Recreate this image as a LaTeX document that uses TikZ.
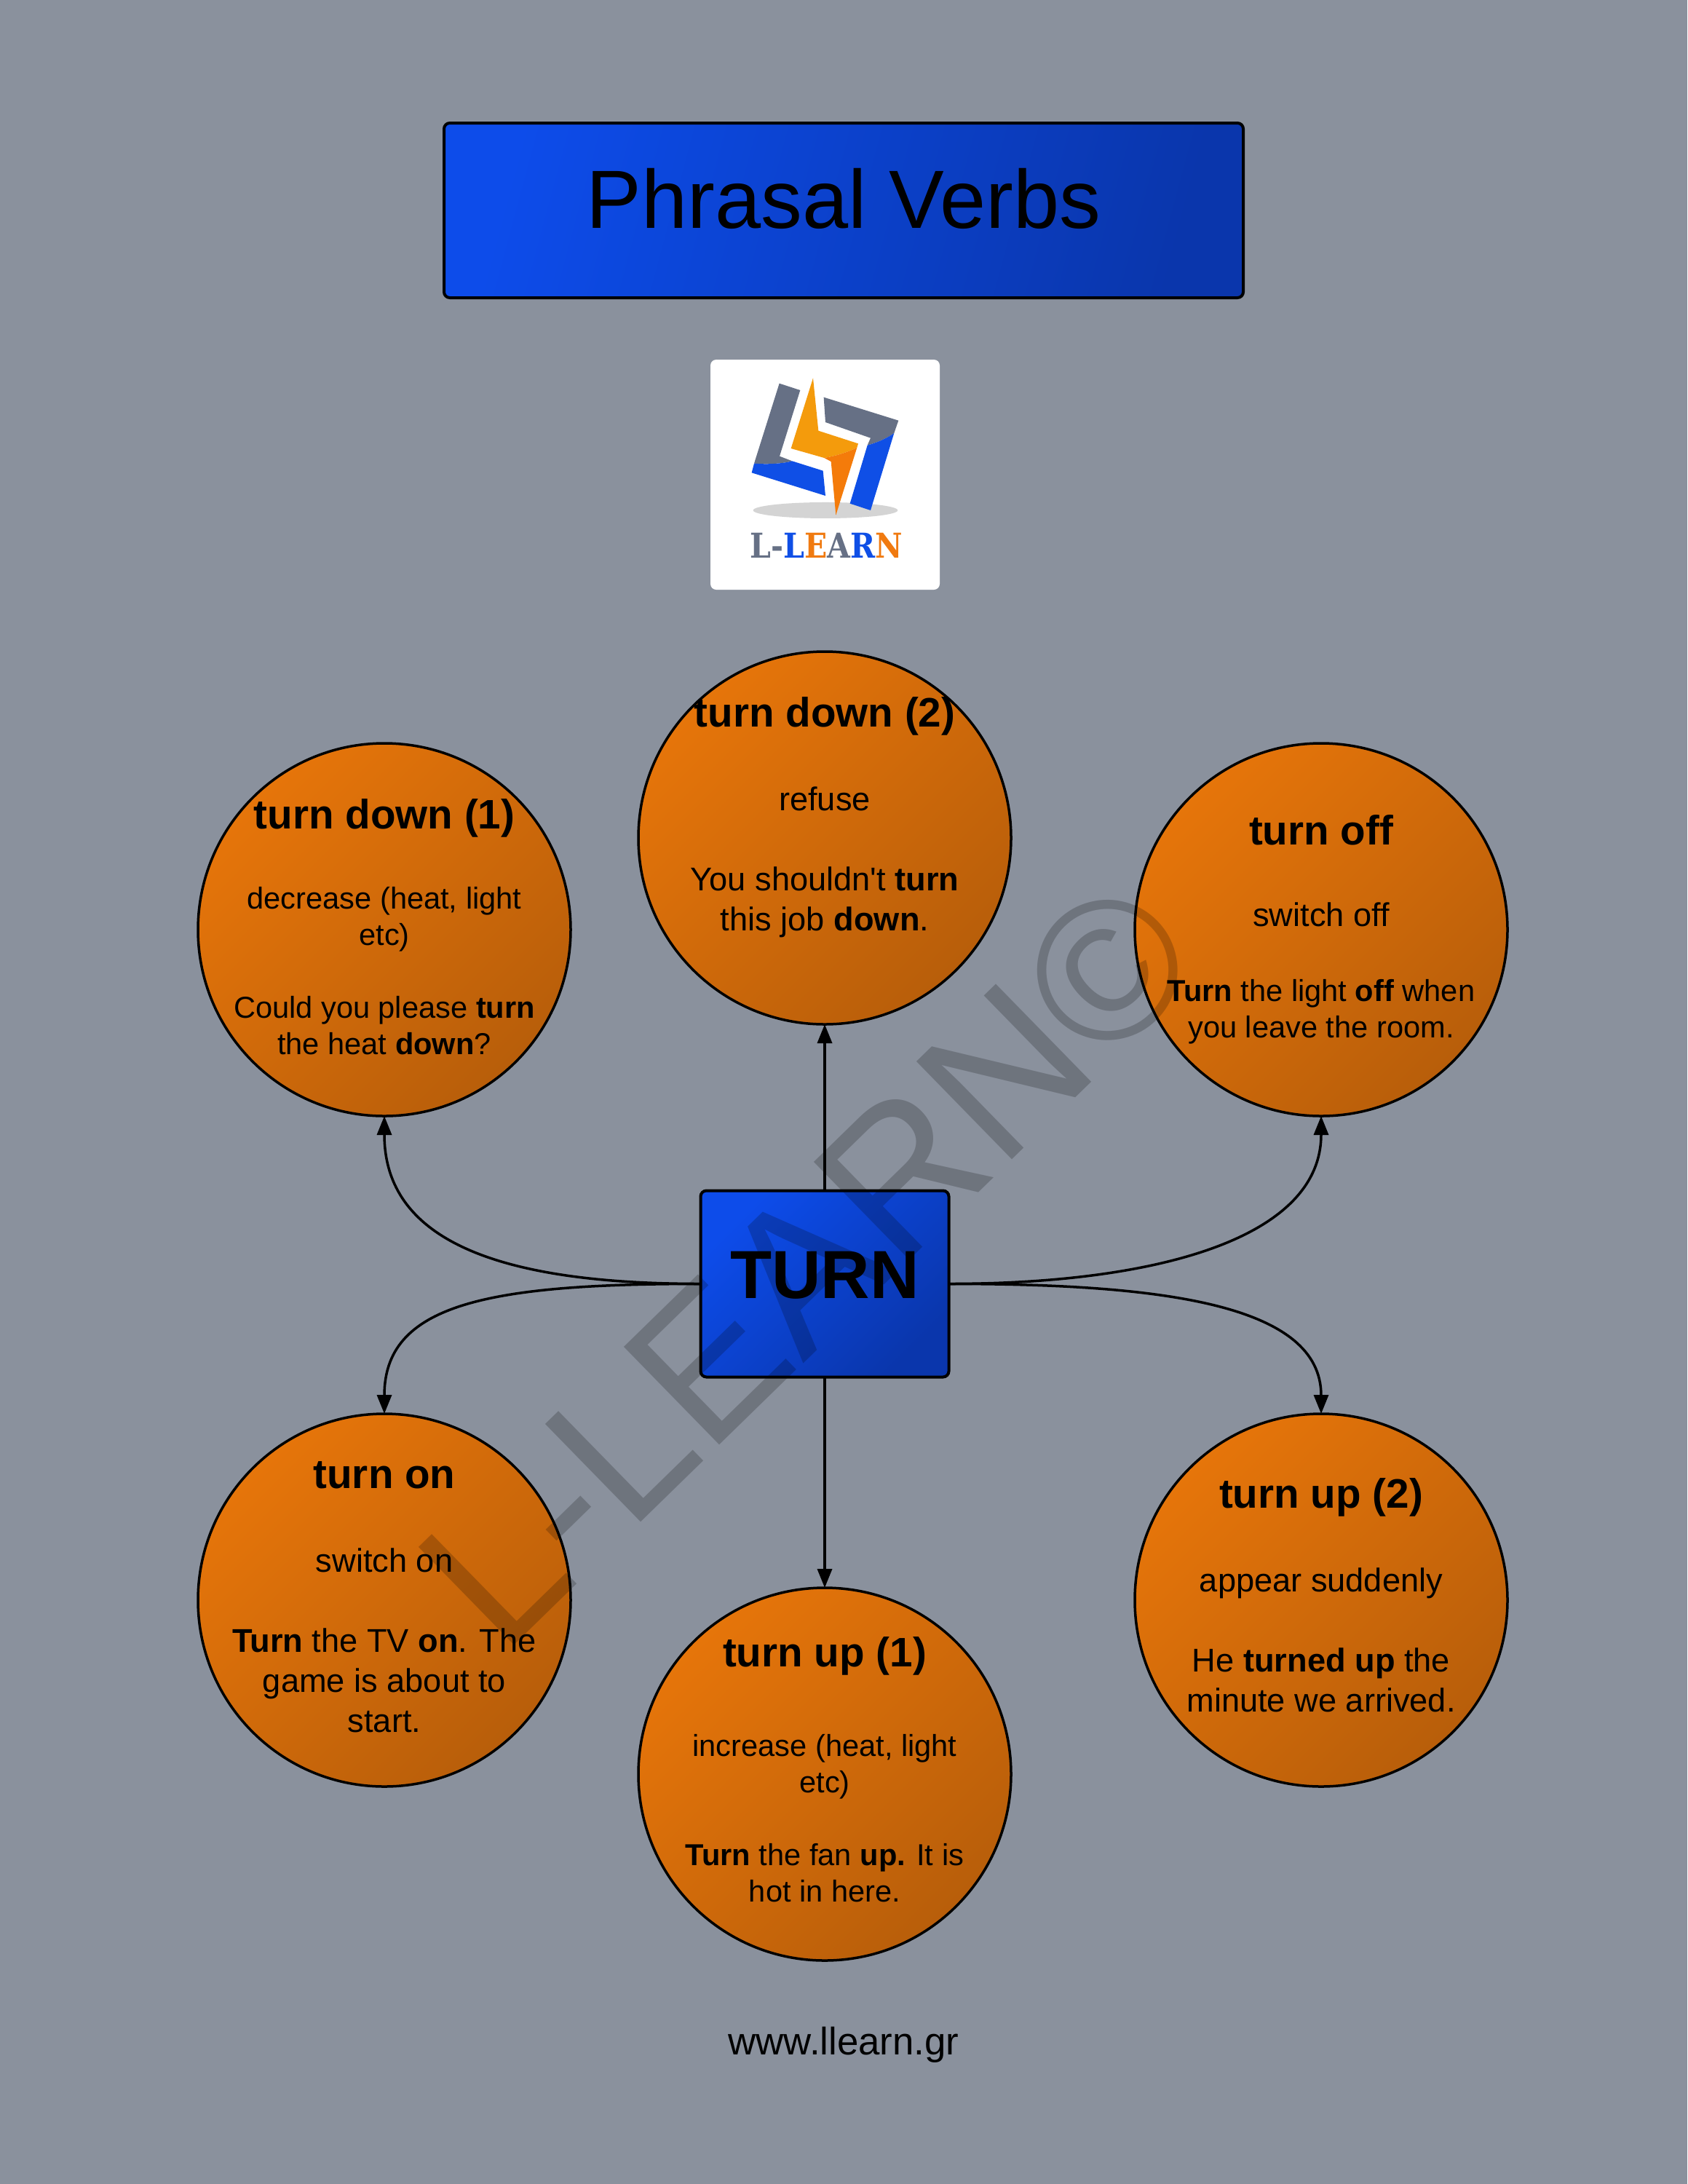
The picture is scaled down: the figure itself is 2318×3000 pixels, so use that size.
\documentclass[tikz,border=0pt]{standalone}
\usepackage{fontspec}
\setmainfont{Liberation Sans}
\newfontfamily\plainfont{Liberation Sans}
\newfontfamily\logofont{DejaVu Serif Condensed}
\usetikzlibrary{arrows.meta,calc,shadings}
\definecolor{bgc}{HTML}{8A919D}
\definecolor{blA}{HTML}{0D4CEA}
\definecolor{blB}{HTML}{0A36AC}
\definecolor{orA}{HTML}{E6750A}
\definecolor{orB}{HTML}{B85E0A}
\definecolor{lgray}{HTML}{667085}
\definecolor{lblue}{HTML}{0F4FE6}
\definecolor{lor}{HTML}{F49B0C}
\definecolor{lord}{HTML}{F47B0A}
\definecolor{ltxt}{HTML}{F07A10}
\newcommand{\hd}[1]{{\fontsize{56.6}{68}\selectfont\bfseries #1}}
\newcommand{\aposch}{{\plainfont '}}
\tikzset{
  x=1pt,y=-1pt,
  bub/.style={circle,draw=black,line width=3.5pt,minimum size=512pt,inner sep=0pt,outer sep=0pt,top color=orA,bottom color=orB,shading angle=45},
  btxt/.style={align=center,inner sep=0pt,text=black},
  big/.style={btxt,font=\fontsize{45.2}{55}\selectfont},
  small/.style={btxt,font=\fontsize{41.6}{50}\selectfont},
  bluebox/.style={draw=black,line width=4pt,rounded corners=8pt,inner sep=0pt,outer sep=0pt,top color=blA,bottom color=blB,shading angle=45},
  conn/.style={draw=black,line width=3.5pt,-{Triangle[length=26pt,width=20pt]}},
  logoscale/.style={shift={(960,480)},x=0.3333pt,y=-0.3333pt}
}
\begin{document}
\begin{tikzpicture}
\useasboundingbox (0,0) rectangle (2318,3000);
\fill[bgc] (0,0) rectangle (2318,3000);

% title
\node[bluebox,minimum width=1098pt,minimum height=240pt,top color=blA,bottom color=blB,shading angle=75] (title) at (1159,289) {};
\node[inner sep=0pt,font=\fontsize{113.5}{130}\selectfont] (titlet) at (1159,273) {Phrasal Verbs};

% logo
\node[fill=white,rounded corners=8pt,minimum width=315pt,minimum height=316pt,inner sep=0pt] (logo) at (1133.5,652) {};
\begin{scope}[logoscale]
  \fill[black!17] (522,663) ellipse [x radius=298,y radius=33];
  \fill[lgray] (332,140) -- (418,168) -- (333,440) -- (385,460) .. controls (340,472) and (280,474) .. (228,470) -- cycle;
  \fill[lblue] (228,470) .. controls (280,474) and (340,472) .. (385,460) -- (512,500) -- (522,603) -- (218,508) -- cycle;
  \fill[lgray] (515,197) -- (823,293) -- (805,345) .. controls (770,370) and (730,385) .. (695,395) -- (708,365) -- (522,300) -- cycle;
  \fill[lblue] (805,345) -- (708,663) -- (623,635) -- (695,395) .. controls (730,385) and (770,370) .. (805,345) -- cycle;
  \fill[lor] (471,118) -- (493,335) -- (657,388) -- (652,405) .. controls (610,425) and (560,440) .. (517,447) -- (380,408) -- cycle;
  \fill[lord] (517,447) .. controls (560,440) and (610,425) .. (652,405) -- (565,683) -- (545,462) -- cycle;
\end{scope}
\node[inner sep=0pt,font=\fontsize{47}{50}\logofont\bfseries] (logot) at (1135,749) {\scalebox{.97}[1]{\textcolor{lgray}{L-}\textcolor{lblue}{L}\textcolor{ltxt}{E}\textcolor{lgray}{A}\textcolor{lblue}{R}\textcolor{ltxt}{N}}};

% circles
\node[bub] (td1) at (528,1277) {};
\node[bub] (td2) at (1133,1151) {};
\node[bub] (off) at (1815,1277) {};
\node[bub] (on) at (528,2198) {};
\node[bub] (up1) at (1133,2437) {};
\node[bub] (up2) at (1815,2198) {};
\node[bluebox,minimum width=341pt,minimum height=256pt] (turn) at (1133,1763.5) {};
\node[inner sep=0pt,font=\fontsize{93.5}{100}\selectfont\bfseries] (turnt) at (1133,1752) {TURN};

% circle texts
\node[small,yshift=4pt] (td1t) at (td1.center) {\hd{turn down (1)}\\[60pt]decrease (heat, light\\etc)\\[50pt]Could you please \textbf{turn}\\the heat \textbf{down}?};
\node[big,yshift=28pt] (td2t) at (td2.center) {\hd{turn down (2)}\\[60pt]refuse\\[55pt]You shouldn\aposch t \textbf{turn}\\this job \textbf{down}.};
\node[small] (offt) at (off.center) {\hd{turn off}\\[62pt]{\fontsize{45.2}{50}\selectfont switch off}\\[53pt]\textbf{Turn} the light \textbf{off} when\\you leave the room.};
\node[big,yshift=4pt] (ont) at (on.center) {\hd{turn on}\\[60pt]switch on\\[55pt]\textbf{Turn} the TV \textbf{on}. The\\game is about to\\start.};
\node[small,yshift=6.5pt] (up1t) at (up1.center) {\hd{turn up (1)}\\[73pt]increase (heat, light\\etc)\\[50pt]\textbf{Turn} the fan \textbf{up.} It is\\hot in here.};
\node[big,yshift=7pt] (up2t) at (up2.center) {\hd{turn up (2)}\\[60pt]appear suddenly\\[55pt]He \textbf{turned up} the\\minute we arrived.};

% connectors
\draw[conn] (turn.north) -- (td2.south);
\draw[conn] (turn.south) -- (up1.north);
\draw[conn] (turn.west) .. controls ($(turn.west)+(-280,0)$) and ($(td1.south)+(0,170)$) .. (td1.south);
\draw[conn] (turn.east) .. controls ($(turn.east)+(280,0)$) and ($(off.south)+(0,170)$) .. (off.south);
\draw[conn] (turn.west) .. controls ($(turn.west)+(-295,0)$) and ($(on.north)+(0,-150)$) .. (on.north);
\draw[conn] (turn.east) .. controls ($(turn.east)+(295,0)$) and ($(up2.north)+(0,-150)$) .. (up2.north);

% footer
\node[inner sep=0pt,font=\fontsize{52.8}{60}\selectfont] (foot) at (1159,2809) {www.llearn.gr};

% watermark
\node[inner sep=0pt,rotate=44.3,anchor=base,text=black,text opacity=0.2,font=\fontsize{273}{300}\selectfont] (wm) at (1175,1803) {L-LEARN©};
\end{tikzpicture}
\end{document}
